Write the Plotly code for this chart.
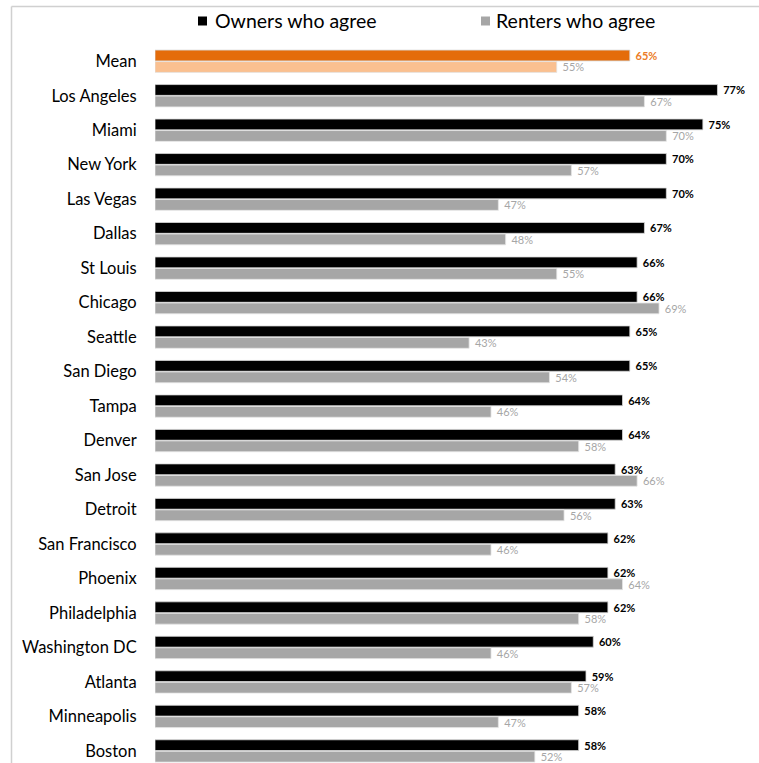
import plotly.graph_objects as go

cities = ["Mean", "Los Angeles", "Miami", "New York", "Las Vegas", "Dallas", "St Louis",
          "Chicago", "Seattle", "San Diego", "Tampa", "Denver", "San Jose", "Detroit",
          "San Francisco", "Phoenix", "Philadelphia", "Washington DC", "Atlanta",
          "Minneapolis", "Boston"]
owners = [65, 77, 75, 70, 70, 67, 66, 66, 65, 65, 64, 64, 63, 63, 62, 62, 62, 60, 59, 58, 58]
renters = [55, 67, 70, 57, 47, 48, 55, 69, 43, 54, 46, 58, 66, 56, 46, 64, 58, 46, 57, 47, 52]

ORANGE = "#E46C0A"
ORANGE_TEXT = "#EC7C26"
LIGHT_ORANGE = "#FAC090"
BLACK = "#000000"
GREY = "#A6A6A6"
FONT = "Lato"

W, H = 759, 763
ML, MR, MT, MB = 155, 5, 44, 0
PW, PH = W - ML - MR, H - MT - MB


def px(x):
    return (x - ML) / PW


def py(y):
    return (H - MB - y) / PH


owner_colors = [ORANGE if c == "Mean" else BLACK for c in cities]
renter_colors = [LIGHT_ORANGE if c == "Mean" else GREY for c in cities]
owner_text_colors = [ORANGE_TEXT if c == "Mean" else BLACK for c in cities]

fig = go.Figure()
fig.add_trace(go.Bar(
    name="Owners who agree", y=cities, x=owners, orientation="h",
    marker=dict(color=owner_colors, line=dict(color="#d8d8d8", width=0.8)),
    text=[f" {v}%" for v in owners], textposition="outside", constraintext="none",
    textfont=dict(family=FONT, size=11, color=owner_text_colors, weight="bold"),
    cliponaxis=False, showlegend=False,
))
fig.add_trace(go.Bar(
    name="Renters who agree", y=cities, x=renters, orientation="h",
    marker=dict(color=renter_colors, line=dict(color="#e4e4e4", width=0.8)),
    text=[f" {v}%" for v in renters], textposition="outside", constraintext="none",
    textfont=dict(family=FONT, size=11, color=GREY),
    cliponaxis=False, showlegend=False,
))

shapes = [
    # outer frame (left and top edges)
    dict(type="line", xref="paper", yref="paper", x0=px(11.5), x1=px(11.5), y0=py(6.5), y1=py(H),
         line=dict(color="#D0D0D0", width=1.5)),
    dict(type="line", xref="paper", yref="paper", x0=px(11.5), x1=px(W), y0=py(6.5), y1=py(6.5),
         line=dict(color="#D0D0D0", width=1.5)),
    # legend swatches
    dict(type="rect", xref="paper", yref="paper", x0=px(198), x1=px(207), y0=py(25.5), y1=py(16.5),
         fillcolor=BLACK, line=dict(width=0)),
    dict(type="rect", xref="paper", yref="paper", x0=px(481), x1=px(490), y0=py(25.5), y1=py(16.5),
         fillcolor=GREY, line=dict(width=0)),
]
annotations = [
    dict(text="Owners who agree", xref="paper", yref="paper", x=px(213), y=py(21),
         xanchor="left", yanchor="middle", showarrow=False,
         font=dict(family=FONT, size=19.5, color="#000000")),
    dict(text="Renters who agree", xref="paper", yref="paper", x=px(494), y=py(21),
         xanchor="left", yanchor="middle", showarrow=False,
         font=dict(family=FONT, size=19.5, color="#000000")),
]

fig.update_layout(
    width=W, height=H,
    margin=dict(l=ML, r=MR, t=MT, b=MB, pad=0),
    paper_bgcolor="white", plot_bgcolor="white",
    barmode="group", bargap=0.333, bargroupgap=0.06,
    shapes=shapes, annotations=annotations,
    xaxis=dict(range=[0, 82], visible=False, fixedrange=True),
    yaxis=dict(type="category", categoryorder="array", categoryarray=cities,
               range=[20.35, -0.5], showgrid=False, zeroline=False, showline=False,
               ticks="outside", ticklen=14, tickcolor="rgba(0,0,0,0)",
               tickfont=dict(family=FONT, size=16.5, color="#000000")),
    font=dict(family=FONT),
)

fig.write_html("out.html")
